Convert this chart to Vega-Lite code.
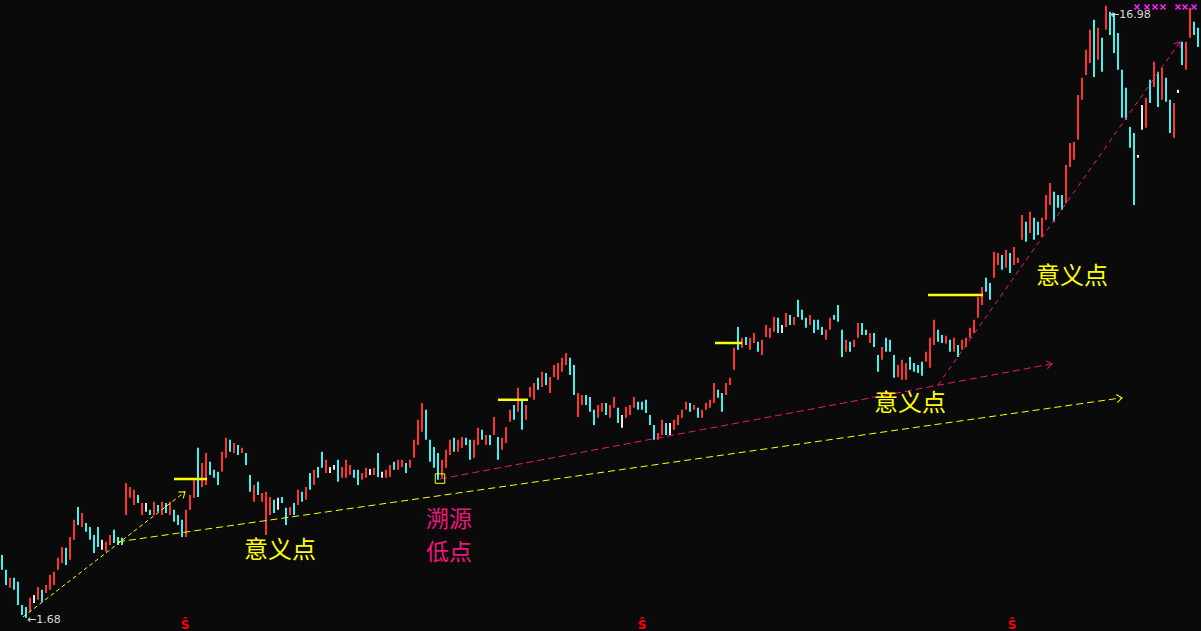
{
"$schema":"https://vega.github.io/schema/vega-lite/v6.json",
"width":1201,"height":631,"padding":0,
"autosize":{"type":"fit","contains":"padding"},
"background":"#0a0a0a",
"config":{"view":{"stroke":null}},
"datasets":{
"k":[
{"i":0,"h":3.25,"l":2.88,"c":"d"},{"i":1,"h":2.88,"l":2.5,"c":"d"},{"i":2,"h":2.68,"l":2.43,"c":"u"},{"i":3,"h":2.68,"l":2.38,"c":"d"},{"i":4,"h":2.58,"l":2.0,"c":"d"},{"i":5,"h":2.0,"l":1.75,"c":"d"},{"i":6,"h":1.95,"l":1.68,"c":"d"},{"i":7,"h":2.18,"l":1.83,"c":"u"},{"i":8,"h":2.25,"l":2.05,"c":"f"},{"i":9,"h":2.45,"l":2.13,"c":"u"},
{"i":10,"h":2.38,"l":2.08,"c":"d"},{"i":11,"h":2.5,"l":2.3,"c":"u"},{"i":12,"h":2.75,"l":2.38,"c":"u"},{"i":13,"h":2.83,"l":2.5,"c":"u"},{"i":14,"h":3.18,"l":2.88,"c":"u"},{"i":15,"h":3.45,"l":3.05,"c":"u"},{"i":16,"h":3.43,"l":3.0,"c":"d"},{"i":17,"h":3.7,"l":3.13,"c":"u"},{"i":18,"h":4.13,"l":3.63,"c":"u"},{"i":19,"h":4.45,"l":4.0,"c":"d"},
{"i":20,"h":4.3,"l":3.95,"c":"u"},{"i":21,"h":4.05,"l":3.83,"c":"d"},{"i":22,"h":3.95,"l":3.63,"c":"d"},{"i":23,"h":3.75,"l":3.3,"c":"d"},{"i":24,"h":3.95,"l":3.45,"c":"d"},{"i":25,"h":3.63,"l":3.38,"c":"f"},{"i":26,"h":3.58,"l":3.33,"c":"u"},{"i":27,"h":3.75,"l":3.5,"c":"u"},{"i":28,"h":3.88,"l":3.55,"c":"d"},{"i":29,"h":3.7,"l":3.5,"c":"d"},
{"i":30,"h":3.68,"l":3.5,"c":"d"},{"i":31,"h":5.05,"l":4.25,"c":"u"},{"i":32,"h":4.95,"l":4.68,"c":"u"},{"i":33,"h":4.88,"l":4.5,"c":"u"},{"i":34,"h":4.75,"l":4.55,"c":"d"},{"i":35,"h":4.55,"l":4.25,"c":"u"},{"i":36,"h":4.55,"l":4.33,"c":"f"},{"i":37,"h":4.38,"l":4.25,"c":"d"},{"i":38,"h":4.58,"l":4.25,"c":"u"},{"i":39,"h":4.5,"l":4.33,"c":"d"},
{"i":40,"h":4.58,"l":4.25,"c":"u"},{"i":41,"h":4.55,"l":4.3,"c":"d"},{"i":42,"h":4.58,"l":4.25,"c":"u"},{"i":43,"h":4.38,"l":4.08,"c":"d"},{"i":44,"h":4.25,"l":4.0,"c":"d"},{"i":45,"h":4.13,"l":3.7,"c":"d"},{"i":46,"h":4.38,"l":3.7,"c":"u"},{"i":47,"h":4.75,"l":4.38,"c":"u"},{"i":48,"h":5.13,"l":4.68,"c":"u"},{"i":49,"h":5.93,"l":4.7,"c":"d"},
{"i":50,"h":5.55,"l":4.95,"c":"u"},{"i":51,"h":5.8,"l":5.0,"c":"u"},{"i":52,"h":5.58,"l":5.25,"c":"d"},{"i":53,"h":5.38,"l":5.18,"c":"d"},{"i":54,"h":5.33,"l":5.0,"c":"d"},{"i":55,"h":5.83,"l":5.33,"c":"u"},{"i":56,"h":6.18,"l":5.68,"c":"u"},{"i":57,"h":6.13,"l":5.83,"c":"d"},{"i":58,"h":6.05,"l":5.8,"c":"u"},{"i":59,"h":6.0,"l":5.75,"c":"d"},
{"i":60,"h":5.93,"l":5.8,"c":"u"},{"i":61,"h":5.8,"l":5.5,"c":"d"},{"i":62,"h":5.25,"l":4.83,"c":"d"},{"i":63,"h":5.0,"l":4.58,"c":"u"},{"i":64,"h":5.08,"l":4.75,"c":"d"},{"i":65,"h":4.8,"l":4.58,"c":"u"},{"i":66,"h":4.83,"l":3.75,"c":"u"},{"i":67,"h":4.7,"l":4.25,"c":"u"},{"i":68,"h":4.63,"l":4.3,"c":"d"},{"i":69,"h":4.68,"l":4.38,"c":"f"},
{"i":70,"h":4.7,"l":4.55,"c":"d"},{"i":71,"h":4.43,"l":4.0,"c":"d"},{"i":72,"h":4.45,"l":4.25,"c":"u"},{"i":73,"h":4.55,"l":4.25,"c":"d"},{"i":74,"h":4.88,"l":4.5,"c":"u"},{"i":75,"h":4.83,"l":4.58,"c":"d"},{"i":76,"h":4.95,"l":4.63,"c":"u"},{"i":77,"h":5.3,"l":4.88,"c":"d"},{"i":78,"h":5.38,"l":5.0,"c":"u"},{"i":79,"h":5.45,"l":5.18,"c":"d"},
{"i":80,"h":5.83,"l":5.43,"c":"d"},{"i":81,"h":5.63,"l":5.3,"c":"u"},{"i":82,"h":5.45,"l":5.3,"c":"f"},{"i":83,"h":5.5,"l":5.38,"c":"f"},{"i":84,"h":5.63,"l":5.08,"c":"d"},{"i":85,"h":5.45,"l":5.18,"c":"u"},{"i":86,"h":5.63,"l":5.18,"c":"u"},{"i":87,"h":5.5,"l":5.25,"c":"u"},{"i":88,"h":5.38,"l":5.18,"c":"d"},{"i":89,"h":5.38,"l":5.0,"c":"d"},
{"i":90,"h":5.3,"l":5.13,"c":"u"},{"i":91,"h":5.43,"l":5.18,"c":"u"},{"i":92,"h":5.4,"l":5.25,"c":"f"},{"i":93,"h":5.43,"l":5.25,"c":"u"},{"i":94,"h":5.8,"l":5.2,"c":"d"},{"i":95,"h":5.33,"l":5.18,"c":"f"},{"i":96,"h":5.38,"l":5.18,"c":"u"},{"i":97,"h":5.5,"l":5.2,"c":"u"},{"i":98,"h":5.58,"l":5.38,"c":"d"},{"i":99,"h":5.63,"l":5.38,"c":"u"},
{"i":100,"h":5.63,"l":5.45,"c":"u"},{"i":101,"h":5.55,"l":5.3,"c":"d"},{"i":102,"h":5.63,"l":5.43,"c":"u"},{"i":103,"h":6.13,"l":5.68,"c":"u"},{"i":104,"h":6.63,"l":6.0,"c":"u"},{"i":105,"h":7.05,"l":6.33,"c":"u"},{"i":106,"h":6.88,"l":6.13,"c":"d"},{"i":107,"h":6.13,"l":5.58,"c":"d"},{"i":108,"h":5.95,"l":5.43,"c":"d"},{"i":109,"h":5.8,"l":5.13,"c":"d"},
{"i":110,"h":5.63,"l":5.18,"c":"u"},{"i":111,"h":5.88,"l":5.43,"c":"u"},{"i":112,"h":6.13,"l":5.75,"c":"u"},{"i":113,"h":6.18,"l":5.83,"c":"d"},{"i":114,"h":6.13,"l":5.83,"c":"u"},{"i":115,"h":6.2,"l":5.93,"c":"u"},{"i":116,"h":6.18,"l":6.0,"c":"d"},{"i":117,"h":6.13,"l":5.63,"c":"d"},{"i":118,"h":6.13,"l":5.68,"c":"u"},{"i":119,"h":6.43,"l":6.0,"c":"u"},
{"i":120,"h":6.38,"l":6.13,"c":"d"},{"i":121,"h":6.25,"l":6.0,"c":"u"},{"i":122,"h":6.25,"l":6.0,"c":"d"},{"i":123,"h":6.7,"l":6.25,"c":"u"},{"i":124,"h":6.2,"l":5.63,"c":"d"},{"i":125,"h":6.18,"l":5.88,"c":"u"},{"i":126,"h":6.45,"l":6.05,"c":"u"},{"i":127,"h":6.88,"l":6.58,"c":"u"},{"i":128,"h":7.0,"l":6.63,"c":"d"},{"i":129,"h":7.43,"l":6.83,"c":"u"},
{"i":130,"h":7.13,"l":6.38,"c":"d"},{"i":131,"h":7.0,"l":6.63,"c":"u"},{"i":132,"h":7.45,"l":7.2,"c":"u"},{"i":133,"h":7.55,"l":7.13,"c":"u"},{"i":134,"h":7.68,"l":7.38,"c":"d"},{"i":135,"h":7.83,"l":7.45,"c":"u"},{"i":136,"h":7.8,"l":7.5,"c":"d"},{"i":137,"h":7.7,"l":7.3,"c":"u"},{"i":138,"h":8.0,"l":7.7,"c":"u"},{"i":139,"h":8.05,"l":7.63,"c":"u"},
{"i":140,"h":8.18,"l":7.83,"c":"u"},{"i":141,"h":8.3,"l":8.0,"c":"u"},{"i":142,"h":8.18,"l":7.75,"c":"d"},{"i":143,"h":8.0,"l":7.25,"c":"d"},{"i":144,"h":7.3,"l":6.7,"c":"u"},{"i":145,"h":7.25,"l":7.0,"c":"u"},{"i":146,"h":7.25,"l":7.0,"c":"d"},{"i":147,"h":7.2,"l":6.83,"c":"d"},{"i":148,"h":6.88,"l":6.5,"c":"d"},{"i":149,"h":7.0,"l":6.68,"c":"u"},
{"i":150,"h":7.05,"l":6.83,"c":"u"},{"i":151,"h":7.05,"l":6.75,"c":"d"},{"i":152,"h":7.0,"l":6.68,"c":"u"},{"i":153,"h":7.2,"l":6.93,"c":"u"},{"i":154,"h":6.93,"l":6.55,"c":"d"},{"i":155,"h":6.75,"l":6.43,"c":"f"},{"i":156,"h":6.95,"l":6.68,"c":"u"},{"i":157,"h":7.0,"l":6.75,"c":"u"},{"i":158,"h":7.2,"l":6.93,"c":"u"},{"i":159,"h":7.08,"l":6.88,"c":"d"},
{"i":160,"h":7.08,"l":6.88,"c":"d"},{"i":161,"h":7.13,"l":6.8,"c":"d"},{"i":162,"h":6.75,"l":6.5,"c":"d"},{"i":163,"h":6.5,"l":6.13,"c":"d"},{"i":164,"h":6.3,"l":6.13,"c":"u"},{"i":165,"h":6.63,"l":6.25,"c":"u"},{"i":166,"h":6.55,"l":6.25,"c":"d"},{"i":167,"h":6.55,"l":6.25,"c":"f"},{"i":168,"h":6.63,"l":6.38,"c":"u"},{"i":169,"h":6.75,"l":6.5,"c":"u"},
{"i":170,"h":6.88,"l":6.68,"c":"u"},{"i":171,"h":7.08,"l":6.88,"c":"u"},{"i":172,"h":7.05,"l":6.83,"c":"d"},{"i":173,"h":7.0,"l":6.88,"c":"u"},{"i":174,"h":6.93,"l":6.68,"c":"d"},{"i":175,"h":6.88,"l":6.68,"c":"u"},{"i":176,"h":7.05,"l":6.88,"c":"u"},{"i":177,"h":7.13,"l":6.93,"c":"u"},{"i":178,"h":7.55,"l":7.05,"c":"u"},{"i":179,"h":7.38,"l":7.18,"c":"d"},
{"i":180,"h":7.3,"l":6.83,"c":"d"},{"i":181,"h":7.55,"l":7.25,"c":"u"},{"i":182,"h":7.68,"l":7.5,"c":"u"},{"i":183,"h":8.43,"l":7.88,"c":"u"},{"i":184,"h":8.95,"l":8.38,"c":"d"},{"i":185,"h":8.68,"l":8.43,"c":"u"},{"i":186,"h":8.7,"l":8.5,"c":"d"},{"i":187,"h":8.68,"l":8.38,"c":"u"},{"i":188,"h":8.8,"l":8.55,"c":"u"},{"i":189,"h":8.58,"l":8.33,"c":"d"},
{"i":190,"h":8.63,"l":8.25,"c":"u"},{"i":191,"h":9.0,"l":8.7,"c":"u"},{"i":192,"h":8.93,"l":8.68,"c":"u"},{"i":193,"h":9.2,"l":8.83,"c":"u"},{"i":194,"h":9.18,"l":8.8,"c":"d"},{"i":195,"h":9.0,"l":8.8,"c":"f"},{"i":196,"h":9.3,"l":8.95,"c":"u"},{"i":197,"h":9.25,"l":9.0,"c":"d"},{"i":198,"h":9.2,"l":9.0,"c":"u"},{"i":199,"h":9.63,"l":9.2,"c":"d"},
{"i":200,"h":9.38,"l":9.13,"c":"d"},{"i":201,"h":9.18,"l":8.93,"c":"d"},{"i":202,"h":9.25,"l":9.0,"c":"u"},{"i":203,"h":9.13,"l":8.8,"c":"d"},{"i":204,"h":9.13,"l":8.88,"c":"d"},{"i":205,"h":8.95,"l":8.75,"c":"d"},{"i":206,"h":8.88,"l":8.63,"c":"u"},{"i":207,"h":9.18,"l":8.88,"c":"u"},{"i":208,"h":9.25,"l":9.13,"c":"d"},{"i":209,"h":9.5,"l":9.08,"c":"d"},
{"i":210,"h":8.88,"l":8.2,"c":"d"},{"i":211,"h":8.63,"l":8.33,"c":"u"},{"i":212,"h":8.58,"l":8.33,"c":"d"},{"i":213,"h":8.63,"l":8.45,"c":"u"},{"i":214,"h":9.05,"l":8.68,"c":"u"},{"i":215,"h":9.05,"l":8.75,"c":"d"},{"i":216,"h":8.88,"l":8.75,"c":"d"},{"i":217,"h":8.8,"l":8.55,"c":"u"},{"i":218,"h":8.8,"l":8.45,"c":"d"},{"i":219,"h":8.25,"l":7.83,"c":"d"},
{"i":220,"h":8.45,"l":8.13,"c":"u"},{"i":221,"h":8.68,"l":8.33,"c":"d"},{"i":222,"h":8.63,"l":8.33,"c":"d"},{"i":223,"h":8.25,"l":7.68,"c":"d"},{"i":224,"h":8.0,"l":7.7,"c":"u"},{"i":225,"h":8.13,"l":7.63,"c":"u"},{"i":226,"h":8.05,"l":7.63,"c":"u"},{"i":227,"h":8.2,"l":7.88,"c":"d"},{"i":228,"h":8.05,"l":7.83,"c":"d"},{"i":229,"h":8.0,"l":7.8,"c":"d"},
{"i":230,"h":8.08,"l":7.73,"c":"d"},{"i":231,"h":8.33,"l":8.08,"c":"u"},{"i":232,"h":8.68,"l":7.93,"c":"u"},{"i":233,"h":9.13,"l":8.5,"c":"u"},{"i":234,"h":8.88,"l":8.58,"c":"d"},{"i":235,"h":8.75,"l":8.55,"c":"d"},{"i":236,"h":8.73,"l":8.53,"c":"u"},{"i":237,"h":8.63,"l":8.33,"c":"d"},{"i":238,"h":8.68,"l":8.33,"c":"u"},{"i":239,"h":8.5,"l":8.2,"c":"d"},
{"i":240,"h":8.63,"l":8.38,"c":"u"},{"i":241,"h":8.68,"l":8.45,"c":"u"},{"i":242,"h":8.93,"l":8.68,"c":"u"},{"i":243,"h":9.13,"l":8.8,"c":"u"},{"i":244,"h":9.7,"l":9.18,"c":"u"},{"i":245,"h":9.95,"l":9.5,"c":"u"},{"i":246,"h":10.18,"l":9.83,"c":"d"},{"i":247,"h":10.05,"l":9.63,"c":"d"},{"i":248,"h":10.83,"l":10.18,"c":"u"},{"i":249,"h":10.8,"l":10.5,"c":"u"},
{"i":250,"h":10.75,"l":10.38,"c":"d"},{"i":251,"h":10.88,"l":10.43,"c":"u"},{"i":252,"h":10.8,"l":10.3,"c":"d"},{"i":253,"h":10.95,"l":10.5,"c":"u"},{"i":254,"h":10.68,"l":10.55,"c":"u"},{"i":255,"h":11.75,"l":11.13,"c":"u"},{"i":256,"h":11.58,"l":11.08,"c":"d"},{"i":257,"h":11.83,"l":11.3,"c":"u"},{"i":258,"h":11.68,"l":11.13,"c":"d"},{"i":259,"h":11.58,"l":11.25,"c":"d"},
{"i":260,"h":11.68,"l":11.2,"c":"u"},{"i":261,"h":12.25,"l":11.63,"c":"u"},{"i":262,"h":12.55,"l":12.0,"c":"u"},{"i":263,"h":12.33,"l":11.58,"c":"d"},{"i":264,"h":12.25,"l":11.93,"c":"d"},{"i":265,"h":12.25,"l":11.88,"c":"d"},{"i":266,"h":13.0,"l":12.05,"c":"u"},{"i":267,"h":13.55,"l":12.95,"c":"u"},{"i":268,"h":13.58,"l":13.13,"c":"u"},{"i":269,"h":14.75,"l":13.63,"c":"u"},
{"i":270,"h":15.18,"l":14.63,"c":"u"},{"i":271,"h":15.88,"l":15.25,"c":"u"},{"i":272,"h":16.38,"l":15.55,"c":"u"},{"i":273,"h":16.63,"l":15.2,"c":"d"},{"i":274,"h":16.43,"l":15.63,"c":"u"},{"i":275,"h":16.18,"l":15.33,"c":"d"},{"i":276,"h":16.98,"l":16.38,"c":"u"},{"i":277,"h":16.83,"l":16.25,"c":"d"},{"i":278,"h":16.8,"l":15.8,"c":"d"},{"i":279,"h":16.3,"l":15.38,"c":"d"},
{"i":280,"h":15.38,"l":14.18,"c":"d"},{"i":281,"h":14.93,"l":14.13,"c":"d"},{"i":282,"h":13.95,"l":13.43,"c":"d"},{"i":283,"h":13.8,"l":12.0,"c":"d"},{"i":284,"h":13.25,"l":13.18,"c":"f"},{"i":285,"h":14.5,"l":13.88,"c":"f"},{"i":286,"h":14.68,"l":13.93,"c":"u"},{"i":287,"h":15.13,"l":14.55,"c":"d"},{"i":288,"h":15.58,"l":14.95,"c":"u"},{"i":289,"h":15.33,"l":14.45,"c":"d"},
{"i":290,"h":15.43,"l":14.63,"c":"u"},{"i":291,"h":15.18,"l":14.58,"c":"d"},{"i":292,"h":14.63,"l":13.8,"c":"d"},{"i":293,"h":14.55,"l":13.68,"c":"u"},{"i":294,"h":14.88,"l":14.8,"c":"f"},{"i":295,"h":16.08,"l":15.5,"c":"d"},{"i":296,"h":16.08,"l":15.38,"c":"u"},{"i":297,"h":16.93,"l":16.18,"c":"u"},{"i":298,"h":16.58,"l":16.25,"c":"d"},{"i":299,"h":16.43,"l":15.95,"c":"d"}
],
"lines":[
{"g":"A","i":5.25,"p":1.7},{"g":"A","i":45.75,"p":4.83},
{"g":"B","i":29,"p":3.58},{"g":"B","i":280,"p":7.18},
{"g":"C","i":109.5,"p":5.15},{"g":"C","i":262.5,"p":8.03},
{"g":"D","i":234,"p":7.5},{"g":"D","i":294.5,"p":16.08},
{"g":"H1","i":43,"p":5.15},{"g":"H1","i":51.25,"p":5.15},
{"g":"H2","i":124,"p":7.13},{"g":"H2","i":131.5,"p":7.13},
{"g":"H3","i":178.25,"p":8.55},{"g":"H3","i":185,"p":8.55},
{"g":"H4","i":231.5,"p":9.75},{"g":"H4","i":245.25,"p":9.75}
],
"tips":[
{"g":"A","i":45.75,"p":4.83},{"g":"B","i":280,"p":7.18},{"g":"C","i":262.5,"p":8.03},{"g":"D","i":294.5,"p":16.08}
],
"box":[{"i":109.5,"p":5.16}],
"ytxt":[{"i":69.5,"p":3.35,"t":"意义点"},{"i":227,"p":7.03,"t":"意义点"},{"i":267.5,"p":10.2,"t":"意义点"}],
"ptxt":[{"i":111.75,"p":4.4,"t":"溯源\n低点"}],
"lbl":[{"i":6.25,"p":1.63,"t":"←1.68"},{"i":277,"p":16.75,"t":"←16.98"}],
"marks":[{"i":45.75,"p":1.5},{"i":160,"p":1.5},{"i":252.5,"p":1.5}],
"xm":[{"i":283.75,"p":16.95},{"i":286.25,"p":16.95},{"i":288.25,"p":16.95},{"i":290.25,"p":16.95},{"i":294,"p":16.95},{"i":295.75,"p":16.95},{"i":298,"p":16.95}]
},
"layer":[
{"data":{"name":"k"},"mark":{"type":"rule","strokeWidth":2},
 "encoding":{
  "x":{"field":"i","type":"quantitative","scale":{"domain":[-0.5,299.75],"nice":false,"zero":false},"axis":null},
  "y":{"field":"l","type":"quantitative","scale":{"domain":[1.35,17.125],"nice":false,"zero":false},"axis":null},
  "y2":{"field":"h"},
  "color":{"field":"c","type":"nominal","scale":{"domain":["u","d","f"],"range":["#ff3232","#3ef2f2","#e8e8e8"]},"legend":null}}},
{"data":{"name":"lines"},"transform":[{"filter":"datum.g==='A'"}],"mark":{"type":"line","color":"#ffff00","strokeWidth":1,"strokeDash":[4,3]},
 "encoding":{"x":{"field":"i","type":"quantitative","axis":null},"y":{"field":"p","type":"quantitative","axis":null}}},
{"data":{"name":"lines"},"transform":[{"filter":"datum.g==='B'"}],"mark":{"type":"line","color":"#ffff00","strokeWidth":1,"strokeDash":[7,4]},
 "encoding":{"x":{"field":"i","type":"quantitative","axis":null},"y":{"field":"p","type":"quantitative","axis":null}}},
{"data":{"name":"lines"},"transform":[{"filter":"datum.g==='C'"}],"mark":{"type":"line","color":"#e8187c","strokeWidth":1,"strokeDash":[7,4]},
 "encoding":{"x":{"field":"i","type":"quantitative","axis":null},"y":{"field":"p","type":"quantitative","axis":null}}},
{"data":{"name":"lines"},"transform":[{"filter":"datum.g==='D'"}],"mark":{"type":"line","color":"#e8187c","strokeWidth":1,"strokeDash":[5,4]},
 "encoding":{"x":{"field":"i","type":"quantitative","axis":null},"y":{"field":"p","type":"quantitative","axis":null}}},
{"data":{"name":"lines"},"transform":[{"filter":"indexof(datum.g,'H')===0"}],"mark":{"type":"line","color":"#ffff00","strokeWidth":2.5},
 "encoding":{"x":{"field":"i","type":"quantitative","axis":null},"y":{"field":"p","type":"quantitative","axis":null},"detail":{"field":"g"}}},
{"data":{"name":"tips"},"transform":[{"filter":"datum.g==='A'"}],"mark":{"type":"point","shape":"M-0.6,0.8L0,0L0.6,0.8","filled":false,"strokeWidth":1,"size":180,"angle":52,"color":"#ffff00","opacity":1},
 "encoding":{"x":{"field":"i","type":"quantitative","axis":null},"y":{"field":"p","type":"quantitative","axis":null}}},
{"data":{"name":"tips"},"transform":[{"filter":"datum.g==='B'"}],"mark":{"type":"point","shape":"M-0.6,0.8L0,0L0.6,0.8","filled":false,"strokeWidth":1,"size":180,"angle":82,"color":"#ffff00","opacity":1},
 "encoding":{"x":{"field":"i","type":"quantitative","axis":null},"y":{"field":"p","type":"quantitative","axis":null}}},
{"data":{"name":"tips"},"transform":[{"filter":"datum.g==='C'"}],"mark":{"type":"point","shape":"M-0.6,0.8L0,0L0.6,0.8","filled":false,"strokeWidth":1,"size":180,"angle":79,"color":"#e8187c","opacity":1},
 "encoding":{"x":{"field":"i","type":"quantitative","axis":null},"y":{"field":"p","type":"quantitative","axis":null}}},
{"data":{"name":"tips"},"transform":[{"filter":"datum.g==='D'"}],"mark":{"type":"point","shape":"M-0.6,0.8L0,0L0.6,0.8","filled":false,"strokeWidth":1,"size":180,"angle":35,"color":"#e8187c","opacity":1},
 "encoding":{"x":{"field":"i","type":"quantitative","axis":null},"y":{"field":"p","type":"quantitative","axis":null}}},
{"data":{"name":"box"},"mark":{"type":"point","shape":"square","filled":false,"strokeWidth":1,"size":90,"color":"#ffff00","opacity":1},
 "encoding":{"x":{"field":"i","type":"quantitative","axis":null},"y":{"field":"p","type":"quantitative","axis":null}}},
{"data":{"name":"xm"},"mark":{"type":"point","shape":"M-1,-1L1,1M-1,1L1,-1","filled":false,"strokeWidth":1.5,"size":25,"color":"#ff20ff","opacity":1},
 "encoding":{"x":{"field":"i","type":"quantitative","axis":null},"y":{"field":"p","type":"quantitative","axis":null}}},
{"data":{"name":"ytxt"},"mark":{"type":"text","color":"#ffff00","font":"Noto Sans CJK SC","fontSize":24,"align":"center","baseline":"middle"},
 "encoding":{"x":{"field":"i","type":"quantitative","axis":null},"y":{"field":"p","type":"quantitative","axis":null},"text":{"field":"t"}}},
{"data":{"name":"ptxt"},"mark":{"type":"text","color":"#e8187c","font":"Noto Sans CJK SC","fontSize":23,"align":"center","baseline":"top","lineBreak":"\n","lineHeight":33},
 "encoding":{"x":{"field":"i","type":"quantitative","axis":null},"y":{"field":"p","type":"quantitative","axis":null},"text":{"field":"t"}}},
{"data":{"name":"lbl"},"mark":{"type":"text","color":"#d8d8d8","font":"DejaVu Sans","fontSize":11,"align":"left","baseline":"middle"},
 "encoding":{"x":{"field":"i","type":"quantitative","axis":null},"y":{"field":"p","type":"quantitative","axis":null},"text":{"field":"t"}}},
{"data":{"name":"marks"},"mark":{"type":"text","color":"#ff0000","font":"DejaVu Sans","fontSize":12,"fontWeight":"bold","align":"center","baseline":"middle","text":"Ŝ"},
 "encoding":{"x":{"field":"i","type":"quantitative","axis":null},"y":{"field":"p","type":"quantitative","axis":null}}}
]
}
